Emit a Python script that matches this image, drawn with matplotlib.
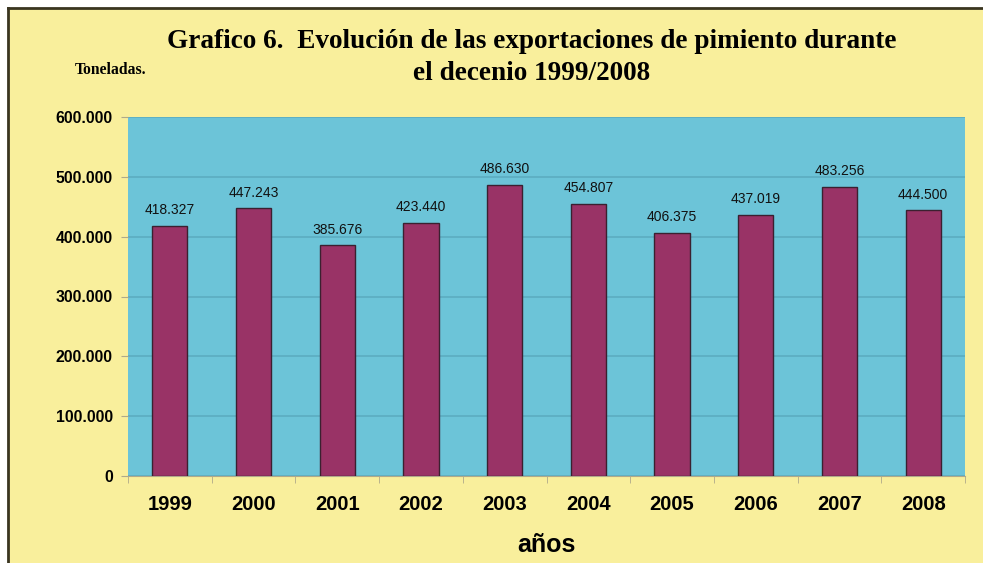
import matplotlib.pyplot as plt
from matplotlib.patches import Rectangle
import numpy as np

# data
years = ['1999', '2000', '2001', '2002', '2003', '2004', '2005', '2006', '2007', '2008']
toneladas = [418327, 447243, 385676, 423440, 486630, 454807, 406375, 437019, 483256, 444500]
yticks = [0, 100000, 200000, 300000, 400000, 500000, 600000]


def fmt_es(v):
    # thousands separator with a dot
    return '{:,}'.format(int(v)).replace(',', '.')


fig = plt.figure(figsize=(9.83, 5.63), dpi=100)
fig.patch.set_facecolor('#F9EF9C')

# white margin on top and left, dark frame line
fig.patches.append(Rectangle((0, 1 - 8 / 563), 1, 8 / 563, transform=fig.transFigure,
                             facecolor='white', edgecolor='none', zorder=-10))
fig.patches.append(Rectangle((0, 0), 8 / 983, 1, transform=fig.transFigure,
                             facecolor='white', edgecolor='none', zorder=-10))
fig.add_artist(plt.Line2D([8 / 983, 1.0], [1 - 8 / 563, 1 - 8 / 563], transform=fig.transFigure,
                          color='#3a3520', lw=2))
fig.add_artist(plt.Line2D([8 / 983, 8 / 983], [0, 1 - 8 / 563], transform=fig.transFigure,
                          color='#3a3520', lw=2))

ax = fig.add_axes([128 / 983, 1 - 476 / 563, (965 - 128) / 983, (476 - 117) / 563])
ax.set_facecolor('#6CC4D8')

x = np.arange(len(years))
ax.bar(x, toneladas, width=0.42, color='#993366', edgecolor='#3b2030', linewidth=1.0, zorder=3)

for xi, v in zip(x, toneladas):
    ax.text(xi, v + 14000, fmt_es(v), ha='center', va='bottom', fontsize=10,
            family='Liberation Sans', color='#111111', zorder=4)

ax.set_xlim(-0.5, len(years) - 0.5)
ax.set_ylim(0, 600000)
ax.set_yticks(yticks)
ax.set_yticklabels([fmt_es(t) for t in yticks], fontsize=11.3, fontweight='bold', family='Liberation Sans')
ax.set_xticks(x)
ax.set_xticklabels(years, fontsize=14.5, fontweight='bold', family='Liberation Sans')
ax.set_xticks(np.arange(len(years) + 1) - 0.5, minor=True)
ax.tick_params(axis='x', which='major', length=0, pad=14)
ax.tick_params(axis='x', which='minor', length=5, color='#b0a98a')
ax.tick_params(axis='y', length=5, color='#b0a98a', pad=6)

ax.grid(axis='y', color='#5cadc1', linewidth=1.2, zorder=1)
for s in ax.spines.values():
    s.set_visible(False)
ax.spines['bottom'].set_visible(True)
ax.spines['bottom'].set_color('#b0a98a')

ax.set_xlabel('años', fontsize=18, fontweight='bold', family='Liberation Sans', labelpad=13)

fig.text(532 / 983, 1 - 42 / 563, 'Grafico 6.  Evolución de las exportaciones de pimiento durante',
         ha='center', va='center', fontsize=19.6, fontweight='bold', family='Liberation Serif')
fig.text(532 / 983, 1 - 73 / 563, 'el decenio 1999/2008',
         ha='center', va='center', fontsize=19.6, fontweight='bold', family='Liberation Serif')
fig.text(111 / 983, 1 - 70 / 563, 'Toneladas.', ha='center', va='center', fontsize=11.3,
         fontweight='bold', family='Liberation Serif')

fig.savefig('out.png', dpi=100, facecolor=fig.get_facecolor())
